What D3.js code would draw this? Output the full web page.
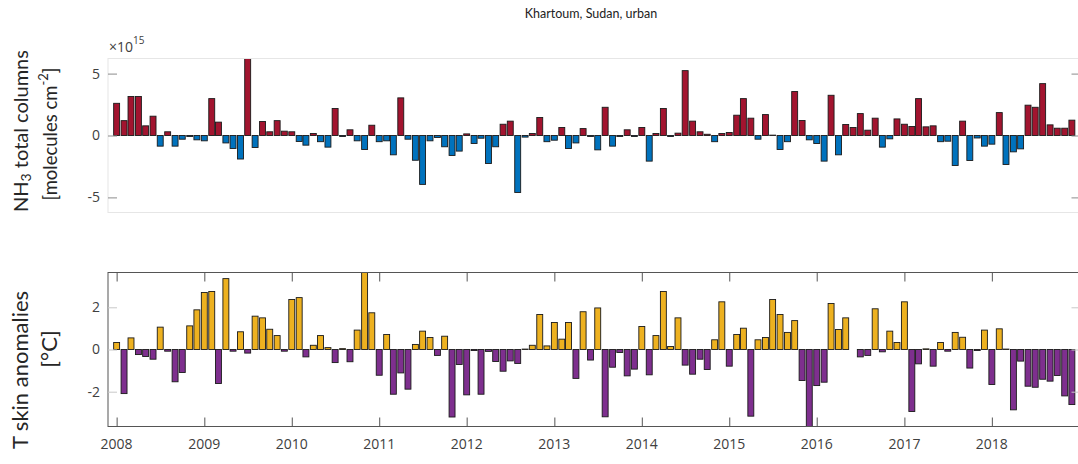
<!DOCTYPE html>
<html>
<head>
<meta charset="utf-8">
<script src="https://cdn.jsdelivr.net/npm/d3@7"></script>
<style>
  html, body { margin: 0; padding: 0; background: #fff; }
  svg { display: block; font-family: "Open Sans", "Noto Sans", sans-serif; }
</style>
</head>
<body>
<svg id="chart" width="1078" height="464"></svg>
<script>
// Monthly anomalies, Jan 2008 – Dec 2018 (132 months)
const startYear = 2008;
const yearTicks = [2008, 2009, 2010, 2011, 2012, 2013, 2014, 2015, 2016, 2017, 2018];

// NH3 total column anomalies, units of 1e15 molecules cm^-2
const nh3Values = [
  2.6, 1.2, 3.15, 3.15, 0.78, 1.56, -0.86, 0.3, -0.86, -0.3, -0.08, -0.35,
  -0.43, 2.98, 1.08, -0.6, -1.05, -1.9, 6.22, -0.97, 1.13, 0.3, 1.2, 0.35,
  0.3, -0.48, -0.78, 0.16, -0.5, -0.94, 2.18, -0.08, 0.46, -0.43, -1.13, 0.83,
  -0.5, -0.43, -1.56, 3.04, -0.3, -2.0, -3.95, -0.43, -0.16, -0.91, -1.61, -1.26,
  0.13, -0.65, -0.22, -2.26, -0.91, 0.91, 1.16, -4.6, -0.13, 0.16, 1.45, -0.5,
  -0.38, 0.65, -1.05, -0.6, 0.56, -0.08, -1.16, 2.28, -0.86, -0.08, 0.46, -0.08,
  0.65, -2.07, 0.16, 2.18, -0.08, 0.19, 5.24, 1.16, 0.3, 0.1, -0.5, 0.16,
  0.24, 1.64, 2.98, 1.4, -0.3, 1.69, 0.03, -1.13, -0.5, 3.55, 1.21, -0.35,
  -0.65, -2.07, 3.25, -1.56, 0.89, 0.65, 1.77, 0.43, 1.4, -0.94, -0.27, 1.34,
  0.91, 0.73, 2.98, 0.7, 0.78, -0.5, -0.46, -2.42, 1.16, -2.02, -0.2, -0.86,
  -0.7, 1.85, -2.34, -1.32, -1.08, 2.45, 2.28, 4.19, 0.86, 0.59, 0.59, 1.24
];

// Skin temperature anomalies, °C
const tskinValues = [
  0.33, -2.09, 0.55, -0.24, -0.33, -0.46, 1.06, -0.08, -1.53, -1.09, 1.12, 1.88,
  2.7, 2.75, -1.61, 3.36, -0.08, 0.84, -0.17, 1.58, 1.5, 0.96, 0.66, -0.08,
  2.37, 2.46, -0.35, 0.2, 0.66, 0.09, -0.62, 0.04, -0.58, 0.92, 3.65, 1.74,
  -1.22, 0.71, -2.12, -1.11, -1.88, 0.24, 0.87, 0.57, -0.28, 0.63, -3.2, -0.71,
  -2.15, -0.05, -2.12, -0.09, -0.57, -1.03, -0.54, -0.66, 0.02, 0.2, 1.66, 0.17,
  1.28, 0.49, 1.28, -1.37, 1.79, -0.5, 1.97, -3.19, -0.84, -0.14, -1.25, -0.93,
  1.09, -1.2, 0.66, 2.75, 0.14, 1.5, -0.74, -1.17, -0.46, -0.95, 0.46, 2.26,
  -0.79, 0.71, 1.01, -3.16, 0.46, 0.57, 2.37, 1.66, 0.81, 1.37, -1.47, -3.65,
  -1.71, -1.55, 2.18, 0.95, 1.5, 0.0, -0.35, -0.28, 1.93, -0.11, 0.87, 0.33,
  2.26, -2.94, -0.68, 0.03, -0.79, 0.33, -0.08, 0.81, 0.58, -0.88, -0.05, 0.92,
  -1.66, 0.98, 0.02, -2.86, -0.55, -1.74, -1.79, -1.41, -1.5, -1.23, -2.2, -2.61
];

const nh3Ticks = [-5, 0, 5];
const tskinTicks = [-2, 0, 2];

const colors = {
  nh3Pos: "#A2142F", nh3Neg: "#0072BD",
  tPos: "#EDB120", tNeg: "#7E2F8E"
};

const svg = d3.select("#chart");

const months = nh3Values.map((_, i) => new Date(Date.UTC(startYear, i, 1)));

// Shared time axis: bars sit on the first day of each month
const x = d3.scaleUtc()
  .domain([new Date(Date.UTC(2007, 10, 26)), new Date(Date.UTC(2019, 0, 6))])
  .range([108, 1080.5]);

const monthStep = x(months[1]) - x(months[0]);
const barW = monthStep * 0.8;

function panel(opts) {
  const { values, top, bottom, limit, ticks, pos, neg, boxColor, xTickColor, yTickColor, showXLabels } = opts;
  const y = d3.scaleLinear().domain([-limit, limit]).range([bottom, top]);
  const g = svg.append("g");
  const [x0, x1] = x.range();

  // bars
  const clipId = "clip" + Math.round(top);
  svg.append("clipPath").attr("id", clipId)
    .append("rect").attr("x", x0).attr("y", top).attr("width", x1 - x0).attr("height", bottom - top);

  g.append("g").attr("clip-path", `url(#${clipId})`)
    .selectAll("rect").data(values).join("rect")
    .attr("x", (d, i) => x(months[i]) - barW / 2)
    .attr("width", barW)
    .attr("y", d => y(Math.max(0, d)))
    .attr("height", d => Math.abs(y(d) - y(0)))
    .attr("fill", d => d >= 0 ? pos : neg)
    .attr("stroke", "#1a1a1a")
    .attr("stroke-width", 0.9);

  // box
  g.append("rect")
    .attr("x", x0).attr("y", top).attr("width", x1 - x0).attr("height", bottom - top)
    .attr("fill", "none").attr("stroke", boxColor).attr("stroke-width", 1);

  // y ticks pointing inward on both sides
  const yl = g.append("g").attr("transform", `translate(${x0},0)`)
    .call(d3.axisRight(y).tickValues(ticks).tickSize(9).tickFormat(""));
  yl.select(".domain").remove();
  yl.selectAll("line").attr("stroke", yTickColor);

  const yr = g.append("g").attr("transform", `translate(${x1},0)`)
    .call(d3.axisLeft(y).tickValues(ticks).tickSize(9).tickFormat(""));
  yr.select(".domain").remove();
  yr.selectAll("line").attr("stroke", yTickColor);

  // y tick labels
  g.append("g").selectAll("text").data(ticks).join("text")
    .attr("x", x0 - 8).attr("y", d => y(d)).attr("dy", "0.35em")
    .attr("text-anchor", "end")
    .attr("font-size", 14).attr("fill", "#404040")
    .text(d => d < 0 ? "-" + Math.abs(d) : d);

  if (showXLabels) {
    const tickDates = yearTicks.map(yr => new Date(Date.UTC(yr, 0, 1)));
    const xb = g.append("g").attr("transform", `translate(0,${bottom})`)
      .call(d3.axisTop(x).tickValues(tickDates).tickSize(9).tickFormat(""));
    xb.select(".domain").remove();
    xb.selectAll("line").attr("stroke", xTickColor);
    const xt = g.append("g").attr("transform", `translate(0,${top})`)
      .call(d3.axisBottom(x).tickValues(tickDates).tickSize(9).tickFormat(""));
    xt.select(".domain").remove();
    xt.selectAll("line").attr("stroke", xTickColor);

    g.append("g").selectAll("text").data(tickDates).join("text")
      .attr("x", d => x(d)).attr("y", bottom + 22)
      .attr("text-anchor", "middle")
      .attr("font-size", 14).attr("fill", "#404040")
      .text(d => d.getUTCFullYear());
  }
  return y;
}

panel({
  values: nh3Values, top: 58.5, bottom: 212.5, limit: 6.22, ticks: nh3Ticks,
  pos: colors.nh3Pos, neg: colors.nh3Neg,
  boxColor: "#e6e6e6", xTickColor: "#e6e6e6", yTickColor: "#8c8c8c", showXLabels: false
});

panel({
  values: tskinValues, top: 272.5, bottom: 426.5, limit: 3.65, ticks: tskinTicks,
  pos: colors.tPos, neg: colors.tNeg,
  boxColor: "#555555", xTickColor: "#555555", yTickColor: "#c8c8c8", showXLabels: true
});

// Title
svg.append("text")
  .attr("x", 591).attr("y", 18)
  .attr("text-anchor", "middle")
  .attr("font-family", "Lato, 'Open Sans', sans-serif")
  .attr("font-size", 12.5).attr("fill", "#222")
  .text("Khartoum, Sudan, urban");

// Exponent marker for the NH3 axis
const expo = svg.append("text")
  .attr("x", 109).attr("y", 52)
  .attr("font-size", 14).attr("fill", "#404040");
expo.append("tspan").text("\u00d710");
expo.append("tspan").attr("dy", -8).attr("font-size", 10).text("15");

// Y-axis titles: each line is centred on its own position along the axis
function yLine(cy, bx, size, parts) {
  const t = svg.append("text")
    .attr("transform", `translate(${bx},${cy}) rotate(-90)`)
    .attr("text-anchor", "middle")
    .attr("font-family", "Lato, 'Open Sans', sans-serif")
    .attr("font-size", size).attr("fill", "#262626");
  parts.forEach(p => {
    const ts = t.append("tspan").text(p.text);
    if (p.small) ts.attr("font-size", size * 0.7);
    if (p.dy) ts.attr("dy", p.dy);
  });
}

yLine(131, 28, 20, [
  { text: "NH" }, { text: "3", small: true, dy: 3 }, { text: " total columns", dy: -3 }
]);
yLine(134, 57, 18.5, [
  { text: "[molecules cm" }, { text: "-2", small: true, dy: -9 }, { text: "]", dy: 9 }
]);
yLine(370, 28, 22, [{ text: "T skin anomalies" }]);
yLine(349, 57, 22, [{ text: "[°C]" }]);
</script>
</body>
</html>
